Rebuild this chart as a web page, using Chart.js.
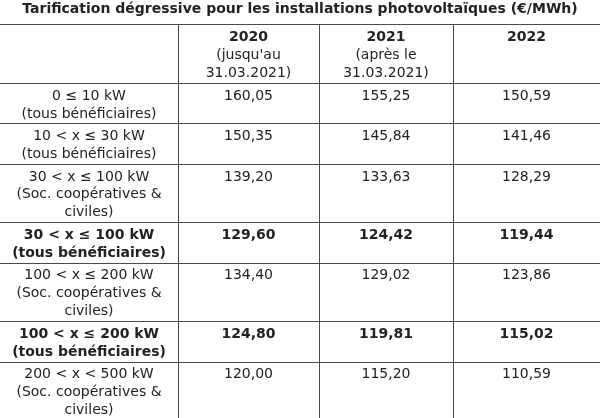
<!DOCTYPE html>
<html>
<head>
<meta charset="utf-8">
<script src="https://cdn.jsdelivr.net/npm/chart.js@4/dist/chart.umd.min.js"></script>
<style>
  body { margin: 0; background: #fff; }
  #wrap { width: 600px; height: 418px; }
</style>
</head>
<body>
<div id="wrap"><canvas id="myChart"></canvas></div>
<script>
// table content
const rowLabels = [
    ['0 ≤ 10 kW', '(tous bénéficiaires)'],
    ['10 < x ≤ 30 kW', '(tous bénéficiaires)'],
    ['30 < x ≤ 100 kW', '(Soc. coopératives &', 'civiles)'],
    ['30 < x ≤ 100 kW', '(tous bénéficiaires)'],
    ['100 < x ≤ 200 kW', '(Soc. coopératives &', 'civiles)'],
    ['100 < x ≤ 200 kW', '(tous bénéficiaires)'],
    ['200 < x < 500 kW', '(Soc. coopératives &', 'civiles)']
];
const boldRows = [false, false, false, true, false, true, false];
const years = ['2020', '2021', '2022'];
const yearNotes = [["(jusqu'au", '31.03.2021)'], ['(après le', '31.03.2021)'], []];
const values2020 = [160.05, 150.35, 139.20, 129.60, 134.40, 124.80, 120.00];
const values2021 = [155.25, 145.84, 133.63, 124.42, 129.02, 119.81, 115.20];
const values2022 = [150.59, 141.46, 128.29, 119.44, 123.86, 115.02, 110.59];
const series = [values2020, values2021, values2022];

// layout: column edges on the x scale, rows sized by their number of lines
const colEdges = [0, 178, 319, 453, 600];
const rowPad = 0.25;
const rowLines = [3].concat(rowLabels.map(l => l.length));
const rowEdges = [0];
rowLines.forEach(n => rowEdges.push(rowEdges[rowEdges.length - 1] + n + rowPad));

const fmt = v => v.toFixed(2).replace('.', ',');
const FONT = '"DejaVu Sans", Verdana, sans-serif';

const tableText = {
    id: 'tableText',
    afterDraw(chart) {
        const ctx = chart.ctx;
        const xs = chart.scales.x, ys = chart.scales.y;
        const unit = Math.abs(ys.getPixelForValue(1) - ys.getPixelForValue(0));
        ctx.save();
        ctx.fillStyle = '#222';
        ctx.textAlign = 'center';
        ctx.textBaseline = 'middle';
        const cell = (col, row, lines, boldFirst, boldAll) => {
            const cx = (xs.getPixelForValue(colEdges[col]) + xs.getPixelForValue(colEdges[col + 1])) / 2;
            const top = ys.getPixelForValue(rowEdges[row]);
            lines.forEach((t, i) => {
                const b = boldAll || (boldFirst && i === 0);
                ctx.font = (b ? 'bold ' : '') + '14px ' + FONT;
                ctx.fillText(t, cx, top + (0.7 + i) * unit);
            });
        };
        years.forEach((y, j) => cell(j + 1, 0, [y].concat(yearNotes[j]), true, false));
        rowLabels.forEach((lab, i) => {
            cell(0, i + 1, lab, false, boldRows[i]);
            series.forEach((s, j) => cell(j + 1, i + 1, [fmt(s[i])], false, boldRows[i]));
        });
        ctx.restore();
    }
};

window.onload = () => {
    const ctx = document.getElementById('myChart').getContext('2d');
    const myChart = new Chart(ctx, {
        type: 'scatter',
        data: { datasets: [] },
        plugins: [tableText],
        options: {
            responsive: true,
            maintainAspectRatio: false,
            animation: false,
            layout: { padding: 0 },
            plugins: {
                legend: { display: false },
                tooltip: { enabled: false },
                title: {
                    display: true,
                    text: 'Tarification dégressive pour les installations photovoltaïques (€/MWh)',
                    color: '#222',
                    font: { family: FONT, size: 14, weight: 'bold' },
                    padding: { top: 1, bottom: 7 }
                }
            },
            scales: {
                x: {
                    type: 'linear',
                    min: 0,
                    max: 600,
                    afterBuildTicks: s => { s.ticks = colEdges.map(v => ({ value: v })); },
                    ticks: { display: false },
                    border: { display: false },
                    grid: {
                        drawTicks: false,
                        color: c => (c.tick.value === 0 || c.tick.value === 600) ? 'rgba(0,0,0,0)' : '#4a4a4a'
                    }
                },
                y: {
                    type: 'linear',
                    reverse: true,
                    min: 0,
                    max: 21.85,
                    afterBuildTicks: s => { s.ticks = rowEdges.map(v => ({ value: v })); },
                    ticks: { display: false },
                    border: { display: false },
                    grid: { drawTicks: false, color: '#4a4a4a' }
                }
            }
        }
    });
}
</script>
</body>
</html>
